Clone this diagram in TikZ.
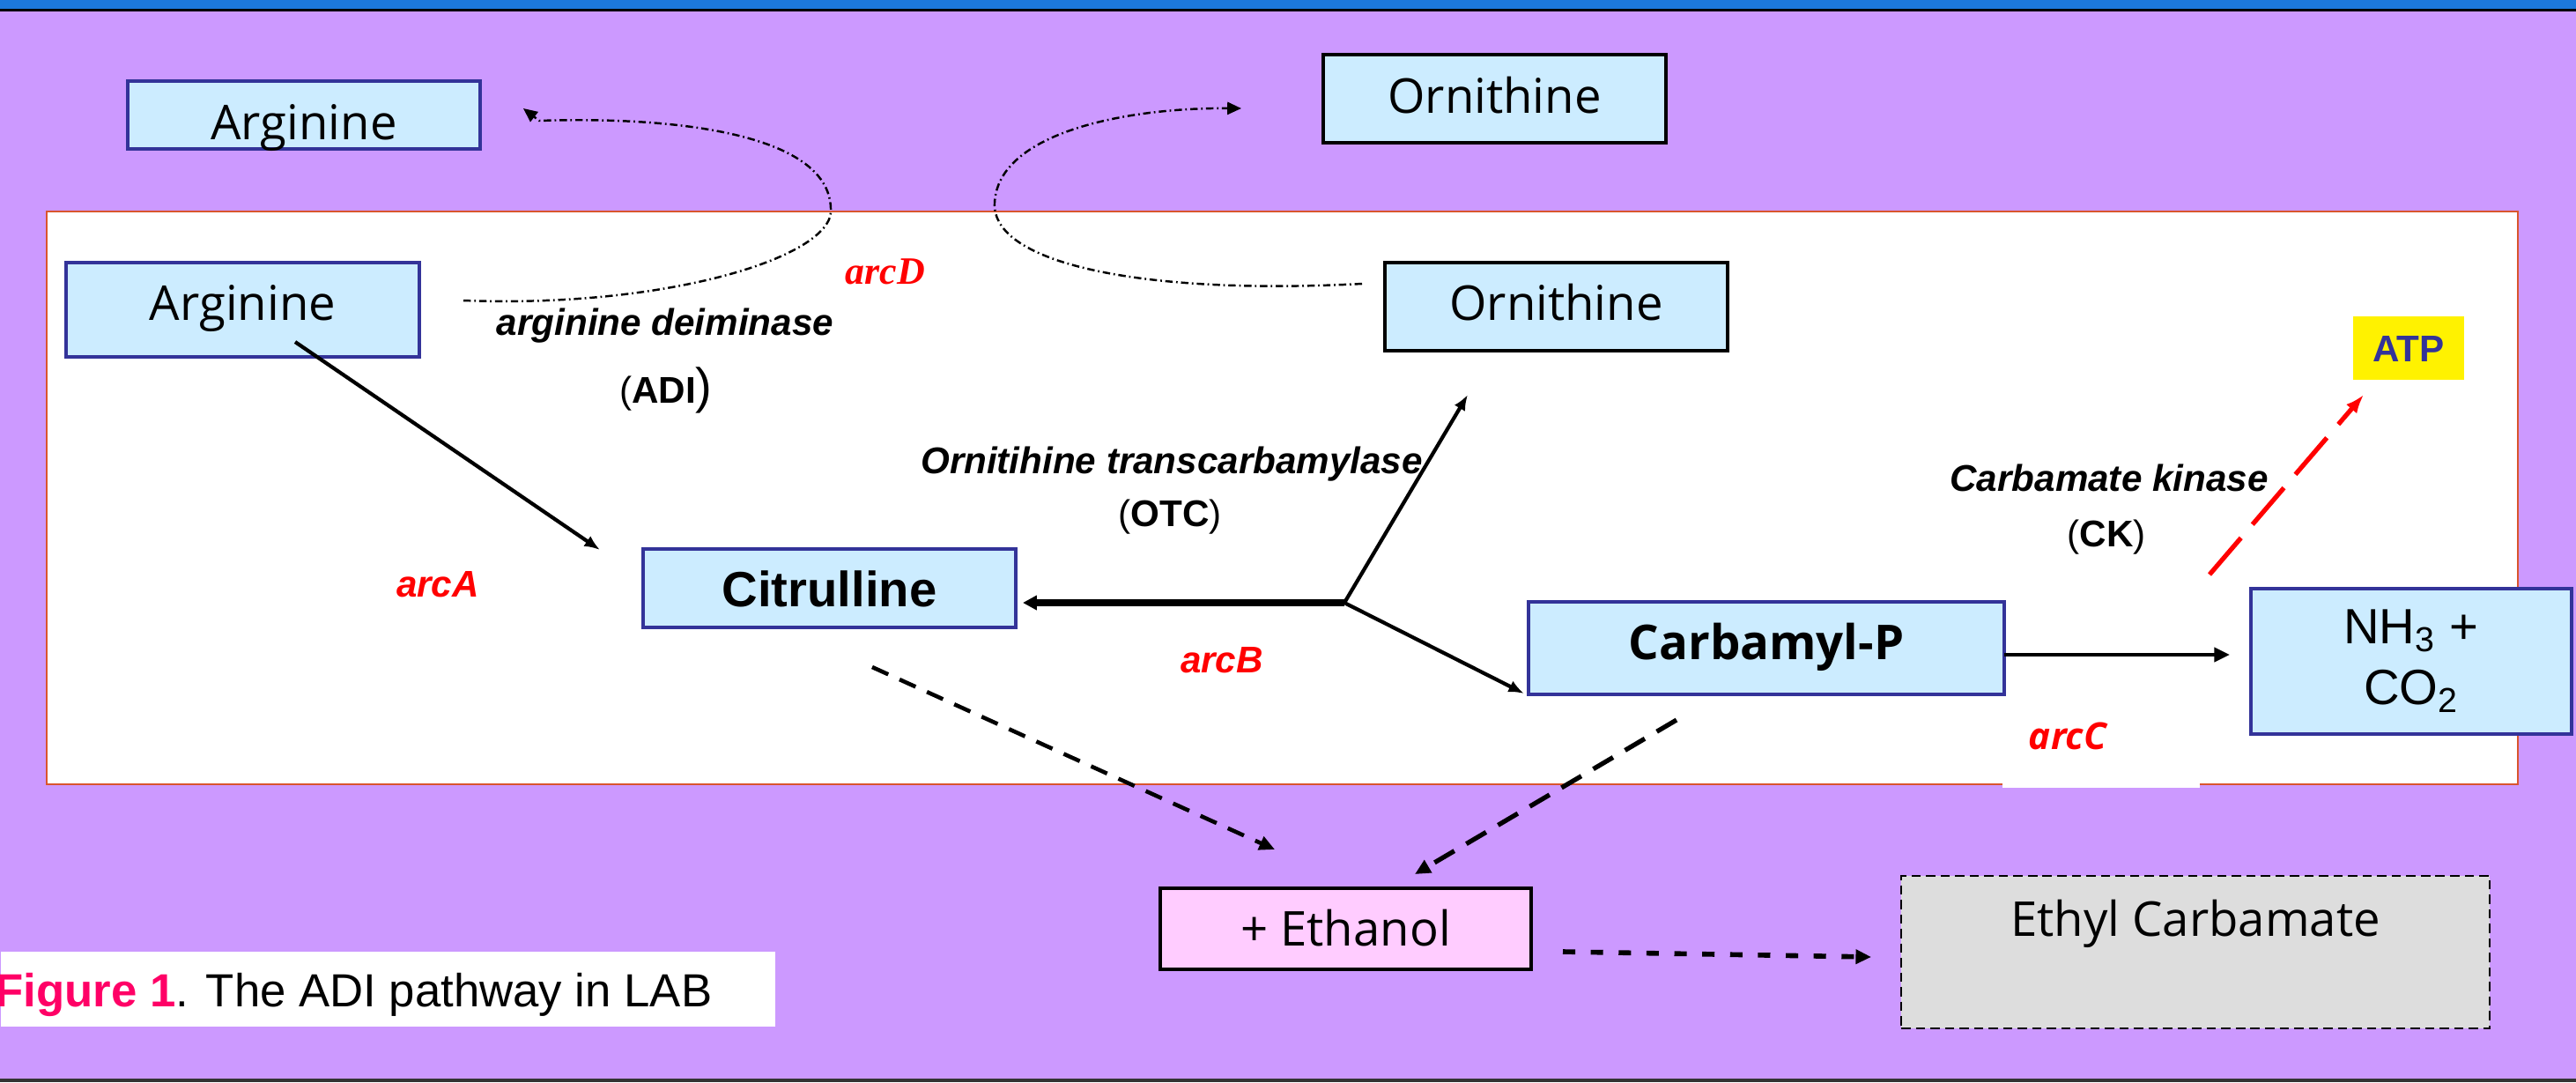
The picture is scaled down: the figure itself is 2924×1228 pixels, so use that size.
\documentclass[tikz,border=0pt]{standalone}
\usepackage{fontspec}
\setmainfont{Liberation Sans}
\newfontfamily\comicf{Open Sans}
\newfontfamily\serf{Liberation Serif}
\usetikzlibrary{arrows.meta}
\definecolor{bgpurple}{HTML}{CC99FF}
\definecolor{boxblue}{HTML}{CCECFF}
\definecolor{borderblue}{HTML}{333399}
\definecolor{pinkfill}{HTML}{FFCCFF}
\definecolor{grayfill}{HTML}{DDDDDD}
\definecolor{topblue}{HTML}{1C78DC}
\definecolor{framecol}{HTML}{D9552E}
\definecolor{figred}{HTML}{FF0066}
\begin{document}
\begin{tikzpicture}[x=0.1mm,y=-0.1mm,
  comic/.style={font=\comicf\fontsize{15.5}{18}\selectfont},
  bluebox/.style={draw=borderblue, line width=1.2pt, fill=boxblue, inner sep=0pt},
  blackbox/.style={draw=black, line width=1.4pt, fill=boxblue, inner sep=0pt},
  enz/.style={font=\bfseries\itshape\fontsize{12}{14}\selectfont, inner sep=0pt, anchor=base},
  abbr/.style={font=\fontsize{12}{14}\selectfont, inner sep=0pt, anchor=base},
  arclabel/.style={text=red, font=\bfseries\itshape\fontsize{12}{14}\selectfont, inner sep=0pt, anchor=base},
  arr/.style={line width=1.2pt, -{Latex[length=5pt,width=4pt]}},
  dasharr/.style={line width=1.3pt, -{Triangle[length=5pt,width=4.5pt]}},
  dashdotarc/.style={line width=0.7pt, dash pattern=on 2.4pt off 1.1pt on 0.5pt off 1.1pt, -{Triangle[length=4.5pt,width=4pt]}}
]
\useasboundingbox (0,0) rectangle (2924,1228);
% background
\fill[bgpurple] (0,0) rectangle (2924,1228);
\fill[topblue] (0,0) rectangle (2924,10);
\fill[black] (0,10) rectangle (2924,12.5);
\fill[black!80] (0,1224) rectangle (2924,1228);
% cell frame
\draw[framecol, line width=0.6pt, fill=white] (53,240) rectangle (2858,890);
\fill[white] (2273,805) rectangle (2497,894);

% boxes
\node[bluebox, comic, minimum width=40mm, minimum height=7.7mm, text height=5.5mm, text depth=0pt] (argU) at (345,130.5) {Arginine};
\node[bluebox, comic, minimum width=40.1mm, minimum height=10.7mm, text height=2.3mm, text depth=0pt] (argL) at (275.5,351.5) {Arginine};
\node[blackbox, comic, minimum width=38.9mm, minimum height=10mm, text height=3.2mm, text depth=0pt] (ornU) at (1696.5,112) {Ornithine};
\node[blackbox, comic, minimum width=38.9mm, minimum height=10mm, text height=3mm, text depth=0pt] (ornL) at (1766.5,348) {Ornithine};
\node[bluebox, font=\bfseries\fontsize{16}{19}\selectfont, minimum width=42.3mm, minimum height=8.9mm, text height=4.1mm, text depth=0pt] (cit) at (941.5,667.5) {Citrulline};
\node[bluebox, comic, font=\comicf\bfseries\fontsize{15.5}{18}\selectfont, minimum width=54mm, minimum height=10.5mm, text height=2.5mm, text depth=0pt] (carb) at (2005,735.5) {Carbamyl-P};
\node[bluebox, align=center, font=\fontsize{16}{19.6}\selectfont, minimum width=36.4mm, minimum height=16.5mm] (nh3) at (2737,750.5) {NH\textsubscript{3} +\\CO\textsubscript{2}};
\node[fill=yellow, text=borderblue, font=\bfseries\fontsize{12}{14}\selectfont, inner sep=0pt, minimum width=12.6mm, minimum height=7.2mm, text height=3mm, text depth=0pt] (atp) at (2734,395) {ATP};
\node[draw=black, line width=1pt, fill=pinkfill, comic, inner sep=0pt, minimum width=42.1mm, minimum height=9.2mm, text height=3.8mm, text depth=0pt] (eth) at (1527.5,1054) {+ Ethanol};
\node[draw=black, line width=0.6pt, dash pattern=on 3pt off 1.7pt, fill=grayfill, comic, inner sep=0pt, minimum width=66.8mm, minimum height=17.3mm, text height=0pt, text depth=3.7mm] (ethc) at (2492,1080.5) {Ethyl Carbamate};

% labels
\node[enz] (lADI) at (755,380) {arginine deiminase};
\node[abbr] (aADI) at (756,457) {(\textbf{ADI}{\fontsize{16}{16}\selectfont)}};
\node[enz] (lOTC) at (1330,537) {Ornitihine transcarbamylase};
\node[abbr] (aOTC) at (1328,597) {(\textbf{OTC})};
\node[enz] (lCK) at (2394,557) {Carbamate kinase};
\node[abbr] (aCK) at (2391,620) {(\textbf{CK})};
\node[arclabel] (arcA) at (497,677) {arcA};
\node[arclabel] (arcB) at (1387,763) {arcB};
\node[arclabel, font=\comicf\bfseries\itshape\fontsize{12}{14}\selectfont] (arcC) at (2347,850) {arcC};
\node[arclabel, font=\serf\bfseries\itshape\fontsize{12.5}{14}\selectfont] (arcD) at (1005,322) {arcD};

% caption
\node[fill=white, inner sep=0pt, minimum width=87.9mm, minimum height=8.5mm, anchor=north west] (capbox) at (0,1079) {};
\node[anchor=base west, inner sep=0pt, font=\fontsize{15}{18}\selectfont] (cap) at (-6,1142) {\textcolor{figred}{\textbf{Figure 1}}. The ADI pathway in LAB};

% coordinates
\coordinate (a1) at (335,388);
\coordinate (a2) at (681,624);
\coordinate (j) at (1526,684);
\coordinate (o1) at (1666,448);
\coordinate (c1) at (1730,787);
\coordinate (ct) at (1161,684);
\coordinate (k1) at (2275,743);
\coordinate (k2) at (2531,743);
\coordinate (r1) at (2508,652);
\coordinate (r2) at (2683,448);
\coordinate (d1) at (990,757);
\coordinate (d2) at (1447,964);
\coordinate (e1) at (1903,817);
\coordinate (e2) at (1606,992);
\coordinate (f1) at (1774,1080);
\coordinate (f2) at (2124,1086);
\coordinate (L0) at (526,341);
\coordinate (L1) at (943,236);
\coordinate (L2) at (612,137);
\coordinate (L3) at (594,123);
\coordinate (R0) at (1546,322);
\coordinate (R1) at (1129,230);
\coordinate (R2) at (1409,123);

% connectors
\draw[arr] (a1) -- (a2);
\draw[arr] (j) -- (o1);
\draw[arr] (j) -- (c1);
\draw[line width=2.4pt, -{Triangle[length=4.5pt,width=4.5pt]}] (j) -- (ct);
\draw[line width=1.2pt, -{Triangle[length=5pt,width=4.5pt]}] (k1) -- (k2);
\draw[red, line width=1.5pt, dash pattern=on 15.6pt off 5.7pt, -{Latex[length=6pt,width=4.5pt]}] (r1) -- (r2);
\draw[dasharr, dash pattern=on 5.7pt off 4pt] (d1) -- (d2);
\draw[dasharr, line width=1.5pt, dash pattern=on 7.4pt off 4.5pt] (e1) -- (e2);
\draw[dasharr, line width=1.6pt, dash pattern=on 4pt off 5pt] (f1) -- (f2);
\draw[dashdotarc] (L0) .. controls (760,350) and (950,290) .. (L1) .. controls (940,150) and (760,132) .. (L2) -- (L3);
\draw[dashdotarc] (R0) .. controls (1300,335) and (1125,300) .. (R1) .. controls (1133,150) and (1280,122) .. (R2);
\end{tikzpicture}
\end{document}
